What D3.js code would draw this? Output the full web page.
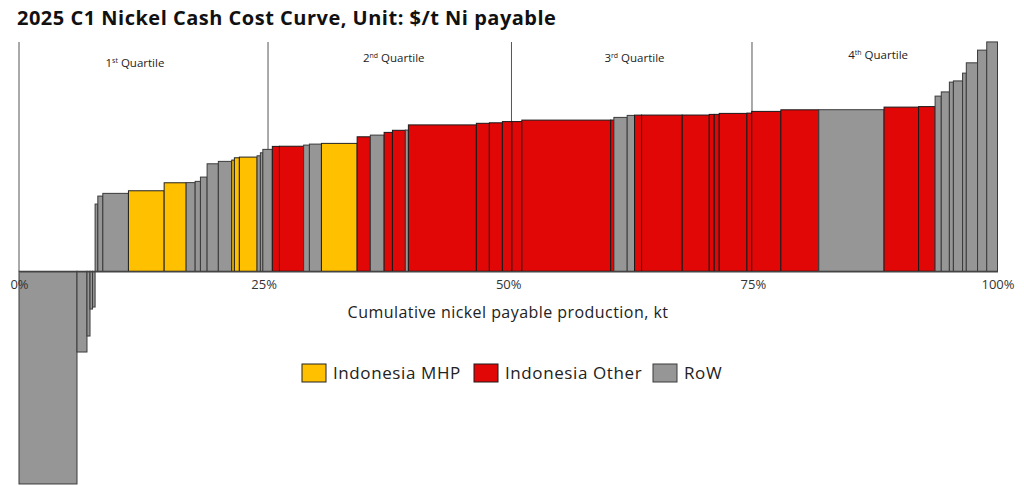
<!DOCTYPE html>
<html><head><meta charset="utf-8">
<script src="https://cdn.jsdelivr.net/npm/d3@7"></script>
<style>
body{margin:0;background:#fff;}
svg{display:block;font-family:"Open Sans","Noto Sans",sans-serif;}
</style></head>
<body><svg id="chart" width="1024" height="486"></svg>
<script>
// ---- data ----
const groups = ["RoW","RoW","RoW","RoW","RoW",
 "RoW","RoW","RoW","Indonesia MHP","Indonesia MHP","RoW","RoW","RoW","RoW","RoW",
 "Indonesia MHP","Indonesia MHP","Indonesia MHP","RoW","RoW","RoW","Indonesia Other","Indonesia Other","RoW","RoW",
 "Indonesia MHP","Indonesia Other","RoW","Indonesia Other","Indonesia Other","RoW","Indonesia Other","Indonesia Other","Indonesia Other","Indonesia Other",
 "Indonesia Other","Indonesia Other","Indonesia Other","RoW","RoW","Indonesia Other","Indonesia Other","Indonesia Other","Indonesia Other","Indonesia Other",
 "Indonesia Other","Indonesia Other","Indonesia Other","Indonesia Other","RoW","Indonesia Other","Indonesia Other","RoW","RoW","RoW",
 "RoW","RoW","RoW","RoW","RoW"];
// share of cumulative production, %
const shares = [5.93,1.02,0.31,0.26,0.26,
 0.28,0.51,2.62,3.65,2.25,0.92,0.54,0.68,1.15,1.37,
 0.27,0.51,1.81,0.34,0.25,0.97,0.73,2.47,0.59,1.23,
 3.65,1.35,1.41,0.85,1.32,0.31,6.95,1.33,1.33,0.97,
 1.02,9.08,0.33,1.36,0.75,0.72,4.16,2.76,0.51,0.51,
 2.83,0.49,2.98,3.88,6.67,3.53,1.69,0.63,0.83,0.41,
 0.94,0.38,1.15,0.94,1.10];
// C1 cash cost, $/t Ni payable
const costs = [-15960,-6060,-4860,-2835,-2685,
 5040,5640,5843,6038,6638,6650,6743,7065,8063,8243,
 8340,8513,8565,8663,8888,9143,9368,9380,9465,9540,
 9593,10088,10215,10418,10575,10590,10980,11100,11138,11228,
 11230,11340,11345,11543,11693,11715,11718,11720,11768,11770,
 11843,11865,11993,12113,12120,12315,12353,13140,13455,14190,
 14280,14865,15638,16590,17205];
const xTicks = [0,25,50,75,100];
const quartileBounds = [25.45,50.33,74.91];
const quartileNames = [["1","st"],["2","nd"],["3","rd"],["4","th"]];
const quartileLabelPos = [11.85,38.3,62.9,87.8];
const legendKeys = ["Indonesia MHP","Indonesia Other","RoW"];
const colors = {"Indonesia MHP":"#FFC000","Indonesia Other":"#E10707","RoW":"#969696"};
const strokes = {"Indonesia MHP":"#222","Indonesia Other":"#1a1a1a","RoW":"#3a3a3a"};

// ---- layout ----
const svg = d3.select("#chart");
const total = d3.sum(shares);
const x = d3.scaleLinear().domain([0,total]).range([19,997.5]);
const y = d3.scaleLinear().domain([-16000,17200]).range([484.5,42]);

let cum = 0;
const bars = shares.map((s,i)=>{const d={x0:cum,x1:cum+s,v:costs[i],g:groups[i]};cum+=s;return d;});

// quartile lines (behind bars)
svg.append("g").selectAll("line").data(quartileBounds).join("line")
  .attr("x1",d=>x(d/100*total)).attr("x2",d=>x(d/100*total))
  .attr("y1",y(17200)).attr("y2",y(0))
  .attr("stroke","#555").attr("stroke-width",1);

// y axis line
svg.append("line").attr("x1",x(0)).attr("x2",x(0)).attr("y1",y(17200)).attr("y2",y(0))
  .attr("stroke","#555").attr("stroke-width",1);

svg.append("g").selectAll("rect").data(bars).join("rect")
  .attr("x",d=>x(d.x0)).attr("width",d=>x(d.x1)-x(d.x0))
  .attr("y",d=>Math.min(y(d.v),y(0))).attr("height",d=>Math.abs(y(d.v)-y(0)))
  .attr("fill",d=>colors[d.g]).attr("stroke",d=>strokes[d.g]).attr("stroke-width",1);

// baseline axis
const xAxis = d3.axisBottom(x).tickValues(xTicks.map(t=>t/100*total))
  .tickFormat((d,i)=>xTicks[i]+"%").tickSize(0).tickPadding(9);
const ag = svg.append("g").attr("transform",`translate(0,${y(0)})`).call(xAxis);
ag.select(".domain").attr("stroke","#444").attr("stroke-width",1.5);
ag.selectAll("text").attr("font-size",13).attr("fill","#333").attr("font-family","Open Sans");

svg.append("text").attr("x",508).attr("y",318).attr("text-anchor","middle")
  .attr("font-size",16).attr("letter-spacing",0.45).attr("fill","#222")
  .text("Cumulative nickel payable production, kt");

// quartile labels
const ql = svg.append("g").selectAll("text").data(quartileNames).join("text")
  .attr("x",(d,i)=>x(quartileLabelPos[i]/100*total))
  .attr("y",(d,i)=>[67,62,62,59][i])
  .attr("text-anchor","middle").attr("font-size",11.5).attr("fill","#222");
ql.append("tspan").text(d=>d[0]);
ql.append("tspan").attr("font-size",7).attr("dy",-4).text(d=>d[1]);
ql.append("tspan").attr("dy",4).text(" Quartile");

// title
svg.append("text").attr("x",17).attr("y",25).attr("font-weight","bold")
  .attr("font-size",20).attr("letter-spacing",0.5).attr("fill","#111")
  .text("2025 C1 Nickel Cash Cost Curve, Unit: $/t Ni payable");

// legend
const legX = [302,474,653];
const lg = svg.append("g").selectAll("g").data(legendKeys).join("g")
  .attr("transform",(d,i)=>`translate(${legX[i]},364)`);
lg.append("rect").attr("width",24).attr("height",18)
  .attr("fill",d=>colors[d]).attr("stroke",d=>strokes[d]).attr("stroke-width",1);
lg.append("text").attr("x",31).attr("y",15).attr("font-size",17).attr("letter-spacing",0.6)
  .attr("fill","#222").text(d=>d);
</script></body></html>
